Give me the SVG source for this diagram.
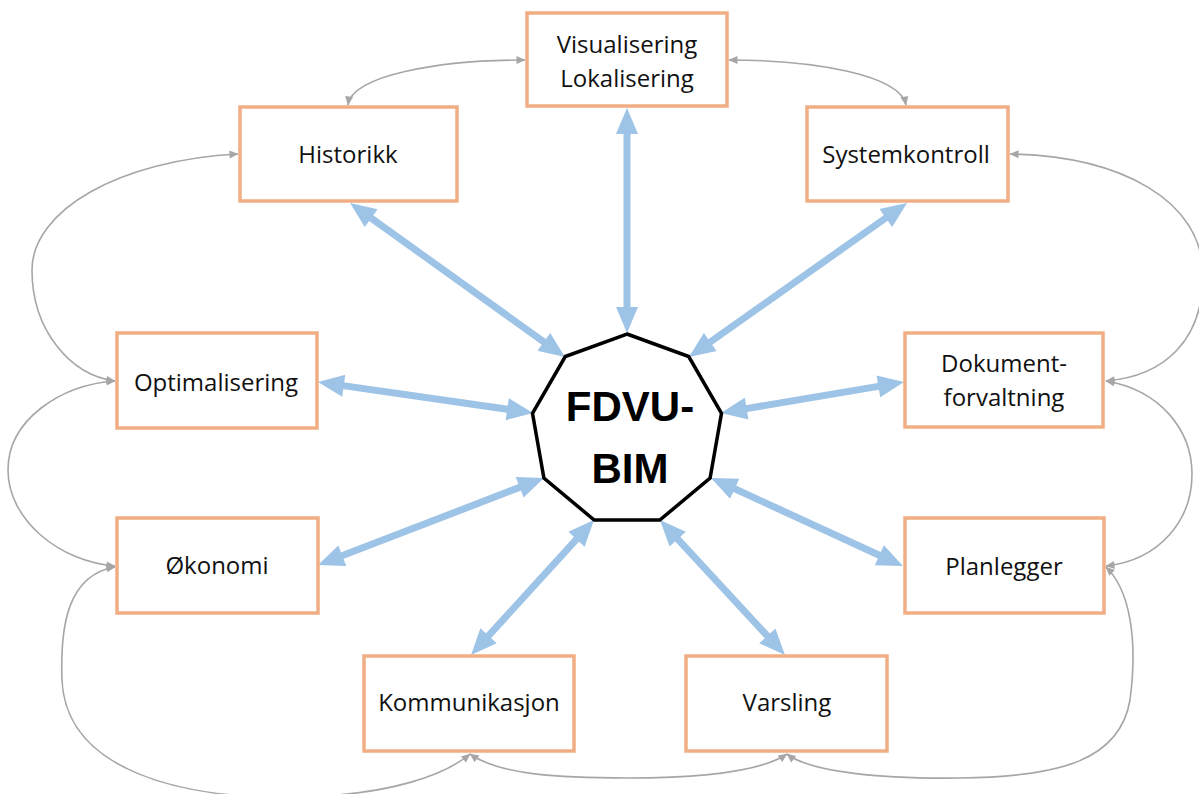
<svg xmlns="http://www.w3.org/2000/svg" width="1199" height="794" viewBox="0 0 1199 794">
<style>
.box{fill:#fff;stroke:#F1AD83;stroke-width:3.5}
.lbl{font-family:"Open Sans","Liberation Sans",sans-serif;font-size:24px;fill:#111;text-anchor:middle}
.hub{fill:#fff;stroke:#000;stroke-width:3.5;stroke-linejoin:miter}
.hubt{font-family:"Liberation Sans",Arial,sans-serif;font-weight:bold;font-size:42px;fill:#000;text-anchor:middle}
.blue{stroke:#9DC3E6;stroke-width:7;fill:none;marker-start:url(#bh);marker-end:url(#bh)}
.gray{stroke:#A6A6A6;stroke-width:1.6;fill:none;marker-start:url(#gh);marker-end:url(#gh)}
</style>
<defs>
<marker id="bh" markerUnits="userSpaceOnUse" markerWidth="26" markerHeight="22" refX="6" refY="11" orient="auto-start-reverse" overflow="visible">
<path d="M0,0 L26,11 L0,22 z" fill="#9DC3E6"/>
</marker>
<marker id="gh" markerUnits="userSpaceOnUse" markerWidth="9" markerHeight="8" refX="8.5" refY="4" orient="auto-start-reverse" overflow="visible">
<path d="M0,0 L9,4 L0,8 z" fill="#A6A6A6"/>
</marker>
</defs>
<rect width="1199" height="794" fill="#fff"/>
<g id="connectors">
<line class="blue" x1="627" y1="128" x2="627" y2="313"/>
<line class="blue" x1="366.3" y1="214.6" x2="548.7" y2="345.4"/>
<line class="blue" x1="890.7" y1="214.5" x2="705.3" y2="345.5"/>
<line class="blue" x1="337.8" y1="384.9" x2="513.2" y2="410.1"/>
<line class="blue" x1="884.3" y1="385.4" x2="740.7" y2="409.6"/>
<line class="blue" x1="336.7" y1="557.8" x2="525.3" y2="485.2"/>
<line class="blue" x1="884.8" y1="557.7" x2="729.2" y2="486.3"/>
<line class="blue" x1="484.5" y1="640.2" x2="580.5" y2="534.8"/>
<line class="blue" x1="771.4" y1="640.3" x2="673.6" y2="534.7"/>
<path class="gray" d="M348,105 C352,75 440,60 525,60"/>
<path class="gray" d="M729,60 C815,60 900,75 906,105"/>
<path class="gray" d="M238,154 C120,160 32,210 32,270 C32,330 70,375 115,381"/>
<path class="gray" d="M115,381 C60,385 8,420 8,470 C8,520 60,562 115,566"/>
<path class="gray" d="M115,567 C68,575 60,625 62,680 C66,770 180,800 300,797 C390,795 445,775 470,754"/>
<path class="gray" d="M470,754 C500,775 560,778 628,778 C700,778 760,772 787,754"/>
<path class="gray" d="M787,754 C810,772 880,779 960,778 C1060,777 1120,760 1130,700 C1138,640 1130,590 1106,567"/>
<path class="gray" d="M1106,381 C1160,390 1192,430 1192,474 C1192,520 1160,560 1106,566"/>
<path class="gray" d="M1010,154 C1120,156 1203,200 1203,275 C1203,340 1165,376 1106,381"/>
</g>
<g id="hub">
<polygon class="hub" points="627,334 688.7,356.5 721.5,413.3 710.1,478 659.8,520.1 594.2,520.1 543.9,478 532.5,413.3 565.3,356.5"/>
<text class="hubt" x="630" y="421">FDVU-</text>
<text class="hubt" x="630" y="483">BIM</text>
</g>
<g id="visualisering">
<rect class="box" x="527" y="13" width="200" height="93"/>
<text class="lbl" x="627" y="53">Visualisering</text>
<text class="lbl" x="627" y="87">Lokalisering</text>
</g>
<g id="historikk">
<rect class="box" x="240" y="107" width="217" height="94"/>
<text class="lbl" x="348" y="163">Historikk</text>
</g>
<g id="systemkontroll">
<rect class="box" x="807" y="107" width="201" height="94"/>
<text class="lbl" x="906" y="163">Systemkontroll</text>
</g>
<g id="optimalisering">
<rect class="box" x="117" y="333" width="200" height="95"/>
<text class="lbl" x="216" y="391">Optimalisering</text>
</g>
<g id="dokumentforvaltning">
<rect class="box" x="905" y="333" width="198" height="94"/>
<text class="lbl" x="1004" y="372">Dokument-</text>
<text class="lbl" x="1004" y="406">forvaltning</text>
</g>
<g id="okonomi">
<rect class="box" x="117" y="518" width="201" height="95"/>
<text class="lbl" x="217" y="574">Økonomi</text>
</g>
<g id="planlegger">
<rect class="box" x="905" y="518" width="199" height="95"/>
<text class="lbl" x="1004" y="575">Planlegger</text>
</g>
<g id="kommunikasjon">
<rect class="box" x="364" y="656" width="210" height="95"/>
<text class="lbl" x="469" y="711">Kommunikasjon</text>
</g>
<g id="varsling">
<rect class="box" x="686" y="656" width="201" height="95"/>
<text class="lbl" x="787" y="711">Varsling</text>
</g>
</svg>
